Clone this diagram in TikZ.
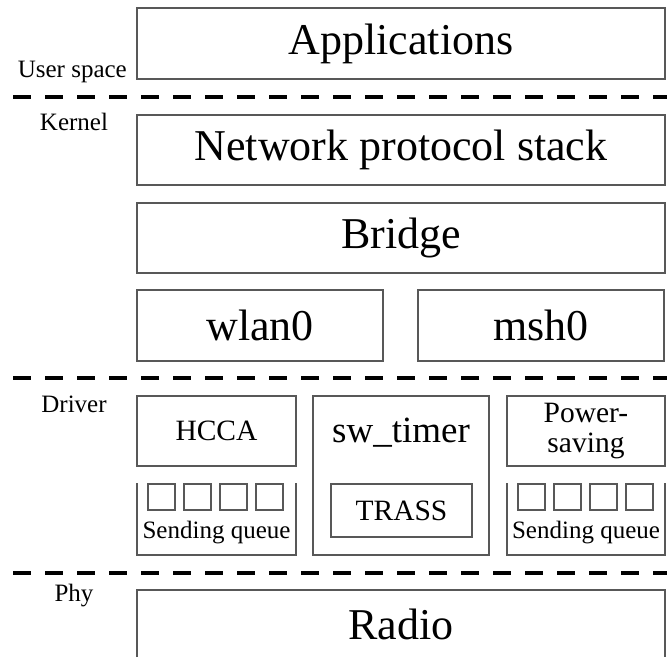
\documentclass[tikz,border=0pt]{standalone}
\usepackage{fontspec}
\setmainfont{Liberation Serif}
\newcommand{\fs}[1]{\fontsize{#1}{#1}\selectfont}
\definecolor{boxgray}{HTML}{585858}
\tikzset{
  x=1pt, y=-1pt,
  layerbox/.style={draw=boxgray, line width=1.3pt, inner sep=0pt, outer sep=0pt, anchor=north west, align=center},
  bigtext/.style={font=\fs{44}},
  midtext/.style={font=\fs{29.5}},
  cell/.style={draw=boxgray, line width=1.1pt, inner sep=0pt, outer sep=0pt, anchor=north west,
               minimum width=27pt, minimum height=26pt},
  sepline/.style={line width=3.5pt, dash pattern=on 18pt off 14pt},
  layerlabel/.style={font=\fs{25}, inner sep=0pt, anchor=base},
  qlabel/.style={font=\fs{25}, inner sep=0pt, anchor=base},
  openbox/.style={inner sep=0pt, outer sep=0pt, anchor=north west},
  openline/.style={draw=boxgray, line width=1.3pt},
}
\begin{document}
\begin{tikzpicture}
\useasboundingbox (0,0) rectangle (667,657);

% user space
\node[layerbox, bigtext, minimum width=528pt, minimum height=71pt] (app) at (137,8) {Applications};
\node[layerlabel, anchor=base east] (lus) at (127,77) {User space};
\coordinate (s1a) at (13,97);
\coordinate (s1b) at (667,97);
\draw[sepline] (s1a) -- (s1b);

% kernel
\node[layerlabel] (lk) at (74,130) {Kernel};
\node[layerbox, bigtext, minimum width=528pt, minimum height=70pt] (nps) at (137,115) {Network protocol stack};
\node[layerbox, bigtext, minimum width=528pt, minimum height=70pt] (br) at (137,203) {Bridge};
\node[layerbox, bigtext, minimum width=246pt, minimum height=71pt] (wl) at (137,290) {wlan0};
\node[layerbox, bigtext, minimum width=246pt, minimum height=71pt] (msh) at (418,290) {msh0};
\coordinate (s2a) at (13,378);
\coordinate (s2b) at (667,378);
\draw[sepline] (s2a) -- (s2b);

% driver
\node[layerlabel] (ld) at (74,412) {Driver};
\node[layerbox, midtext, minimum width=159pt, minimum height=70pt] (hcca) at (137,396) {HCCA};
\node[layerbox, minimum width=176pt, minimum height=159pt] (swt) at (313,396) {};
\node[font=\fs{37}, anchor=base, inner sep=0pt] (swtl) at (401,442) {sw\_timer};
\node[layerbox, midtext, minimum width=141pt, minimum height=53pt] (trass) at (331,484) {TRASS};
\node[layerbox, midtext, minimum width=158pt, minimum height=70pt] (ps) at (507,396)
  {\fontsize{29.5}{33}\selectfont Power-\\saving};

% sending queues, open at the top
\node[openbox, minimum width=159pt, minimum height=72pt] (q1) at (137,483) {};
\draw[openline] (q1.north west) -- (q1.south west) -- (q1.south east) -- (q1.north east);
\foreach \i/\x in {1/148,2/184,3/220,4/256} \node[cell] (q1c\i) at (\x,484) {};
\node[qlabel] (q1l) at (216.5,538) {Sending queue};

\node[openbox, minimum width=158pt, minimum height=72pt] (q2) at (507,483) {};
\draw[openline] (q2.north west) -- (q2.south west) -- (q2.south east) -- (q2.north east);
\foreach \i/\x in {1/518,2/554,3/590,4/626} \node[cell] (q2c\i) at (\x,484) {};
\node[qlabel] (q2l) at (586,538) {Sending queue};

\coordinate (s3a) at (13,573);
\coordinate (s3b) at (667,573);
\draw[sepline] (s3a) -- (s3b);

% phy, box runs past the lower edge
\node[layerlabel] (lp) at (74,601) {Phy};
\node[openbox, minimum width=528pt, minimum height=67pt] (radio) at (137,590) {};
\draw[openline] (radio.south west) -- (radio.north west) -- (radio.north east) -- (radio.south east);
\node[bigtext, inner sep=0pt, anchor=base] (rl) at (401,639) {Radio};
\end{tikzpicture}
\end{document}
